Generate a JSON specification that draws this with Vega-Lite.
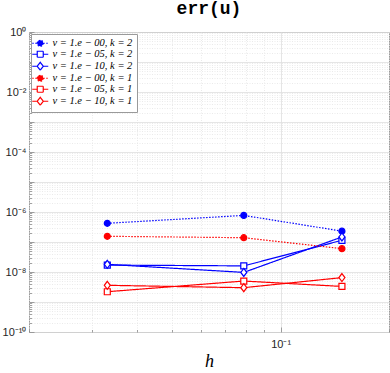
{
  "$schema": "https://vega.github.io/schema/vega-lite/v6.json",
  "width": 360,
  "height": 300,
  "autosize": {"type": "none"},
  "padding": {"left": 29, "top": 32, "right": 1, "bottom": 41},
  "background": "white",
  "title": {"text": "err(u)", "font": "Liberation Mono", "fontWeight": "bold", "fontSize": 18, "color": "#000000", "offset": 8},
  "config": {
    "view": {"stroke": "#9a9a9a", "strokeWidth": 1},
    "axis": {
      "domain": false,
      "ticks": true,
      "tickColor": "#8a8a8a",
      "tickWidth": 0.8,
      "labelFont": "Liberation Sans",
      "labelFontSize": 11,
      "labelColor": "#262626",
      "labelOverlap": false,
      "labelBound": false,
      "titleColor": "#000000"
    },
    "legend": {
      "orient": "top-left", "offset": 2, "fillColor": "white", "strokeColor": "#9a9a9a", "padding": 4,
      "labelFont": "Liberation Serif", "labelFontStyle": "italic", "labelFontSize": 10.5, "labelColor": "#000000",
      "symbolSize": 64, "symbolStrokeWidth": 1.2, "rowPadding": -1, "labelOffset": 7, "symbolOpacity": 1
    }
  },
  "data": {
    "values": [
      {"series": "ν = 1.e − 00, k = 2", "marker": "circle", "h": 0.033, "err": 4.2e-7},
      {"series": "ν = 1.e − 00, k = 2", "marker": "circle", "h": 0.079, "err": 7.7e-7},
      {"series": "ν = 1.e − 00, k = 2", "marker": "circle", "h": 0.148, "err": 2.3e-7},
      {"series": "ν = 1.e − 05, k = 2", "marker": "square", "h": 0.033, "err": 1.7e-8},
      {"series": "ν = 1.e − 05, k = 2", "marker": "square", "h": 0.079, "err": 1.6e-8},
      {"series": "ν = 1.e − 05, k = 2", "marker": "square", "h": 0.148, "err": 1.14e-7},
      {"series": "ν = 1.e − 10, k = 2", "marker": "diamond", "h": 0.033, "err": 1.8e-8},
      {"series": "ν = 1.e − 10, k = 2", "marker": "diamond", "h": 0.079, "err": 9.7e-9},
      {"series": "ν = 1.e − 10, k = 2", "marker": "diamond", "h": 0.148, "err": 1.47e-7},
      {"series": "ν = 1.e − 00, k = 1", "marker": "circle", "h": 0.033, "err": 1.55e-7},
      {"series": "ν = 1.e − 00, k = 1", "marker": "circle", "h": 0.079, "err": 1.39e-7},
      {"series": "ν = 1.e − 00, k = 1", "marker": "circle", "h": 0.148, "err": 6.0e-8},
      {"series": "ν = 1.e − 05, k = 1", "marker": "square", "h": 0.033, "err": 2.2e-9},
      {"series": "ν = 1.e − 05, k = 1", "marker": "square", "h": 0.079, "err": 5.0e-9},
      {"series": "ν = 1.e − 05, k = 1", "marker": "square", "h": 0.148, "err": 3.3e-9},
      {"series": "ν = 1.e − 10, k = 1", "marker": "diamond", "h": 0.033, "err": 3.6e-9},
      {"series": "ν = 1.e − 10, k = 1", "marker": "diamond", "h": 0.079, "err": 3.0e-9},
      {"series": "ν = 1.e − 10, k = 1", "marker": "diamond", "h": 0.148, "err": 6.5e-9}
    ]
  },
  "encoding": {
    "x": {
      "field": "h", "type": "quantitative",
      "scale": {"type": "log", "domain": [0.02, 0.2], "nice": false},
      "axis": {
        "title": "h",
        "titleFont": "Liberation Serif",
        "titleFontStyle": "italic",
        "titleFontWeight": "normal",
        "titleFontSize": 18,
        "titlePadding": 1,
        "labelPadding": 11,
        "tickSize": {"condition": {"test": "abs(datum.value/0.1-1)<1e-6", "value": -5}, "value": -2.5},
        "values": [0.02, 0.03, 0.04, 0.05, 0.06, 0.07, 0.08, 0.09, 0.1, 0.2],
        "labelExpr": "abs(datum.value/0.1-1)<1e-6 ? '10⁻¹' : ''",
        "gridColor": {"condition": {"test": "abs(datum.value/0.1-1)<1e-6", "value": "#dedede"}, "value": "#e4e4e4"},
        "gridDash": {"condition": {"test": "abs(datum.value/0.1-1)<1e-6", "value": []}, "value": [1, 1.5]},
        "gridWidth": 0.8
      }
    },
    "y": {
      "field": "err", "type": "quantitative",
      "scale": {"type": "log", "domain": [1e-10, 1], "nice": false},
      "axis": {
        "title": null,
        "labelPadding": 8,
        "tickSize": {"condition": {"test": "abs(log(datum.value)/LN10 - round(log(datum.value)/LN10)) < 1e-6", "value": -5}, "value": -2.5},
        "values": [1e-10, 2e-10, 3e-10, 4e-10, 5e-10, 6e-10, 7e-10, 8e-10, 9e-10,
                   1e-9, 2e-9, 3e-9, 4e-9, 5e-9, 6e-9, 7e-9, 8e-9, 9e-9,
                   1e-8, 2e-8, 3e-8, 4e-8, 5e-8, 6e-8, 7e-8, 8e-8, 9e-8,
                   1e-7, 2e-7, 3e-7, 4e-7, 5e-7, 6e-7, 7e-7, 8e-7, 9e-7,
                   1e-6, 2e-6, 3e-6, 4e-6, 5e-6, 6e-6, 7e-6, 8e-6, 9e-6,
                   1e-5, 2e-5, 3e-5, 4e-5, 5e-5, 6e-5, 7e-5, 8e-5, 9e-5,
                   1e-4, 2e-4, 3e-4, 4e-4, 5e-4, 6e-4, 7e-4, 8e-4, 9e-4,
                   1e-3, 2e-3, 3e-3, 4e-3, 5e-3, 6e-3, 7e-3, 8e-3, 9e-3,
                   1e-2, 2e-2, 3e-2, 4e-2, 5e-2, 6e-2, 7e-2, 8e-2, 9e-2,
                   1e-1, 2e-1, 3e-1, 4e-1, 5e-1, 6e-1, 7e-1, 8e-1, 9e-1, 1],
        "labelExpr": "abs(datum.value-1)<1e-9 ? '10⁰' : abs(datum.value/1e-2-1)<1e-6 ? '10⁻²' : abs(datum.value/1e-4-1)<1e-6 ? '10⁻⁴' : abs(datum.value/1e-6-1)<1e-6 ? '10⁻⁶' : abs(datum.value/1e-8-1)<1e-6 ? '10⁻⁸' : abs(datum.value/1e-10-1)<1e-6 ? '10⁻¹⁰' : ''",
        "gridColor": {"condition": {"test": "abs(log(datum.value)/LN10 - round(log(datum.value)/LN10)) < 1e-6", "value": "#dedede"}, "value": "#e4e4e4"},
        "gridDash": {"condition": {"test": "abs(log(datum.value)/LN10 - round(log(datum.value)/LN10)) < 1e-6", "value": []}, "value": [1, 1.5]},
        "gridWidth": 0.8
      }
    },
    "color": {"field": "series", "type": "nominal", "legend": {"title": null},
      "scale": {"domain": ["ν = 1.e − 00, k = 2", "ν = 1.e − 05, k = 2", "ν = 1.e − 10, k = 2", "ν = 1.e − 00, k = 1", "ν = 1.e − 05, k = 1", "ν = 1.e − 10, k = 1"],
                "range": ["#0000ff", "#0000ff", "#0000ff", "#ff0000", "#ff0000", "#ff0000"]}}
  },
  "layer": [
    {
      "mark": {"type": "line", "strokeWidth": 1.2},
      "encoding": {
        "strokeDash": {"field": "series", "type": "nominal", "legend": {"title": null},
          "scale": {"domain": ["ν = 1.e − 00, k = 2", "ν = 1.e − 05, k = 2", "ν = 1.e − 10, k = 2", "ν = 1.e − 00, k = 1", "ν = 1.e − 05, k = 1", "ν = 1.e − 10, k = 1"],
                    "range": [[1.5, 1.5], [1, 0], [1, 0], [1.5, 1.5], [1, 0], [1, 0]]}}
      }
    },
    {
      "transform": [{"filter": "datum.marker == 'circle'"}],
      "mark": {"type": "point", "strokeWidth": 1.2, "opacity": 1, "filled": false, "shape": "M-0.75,0A0.75,0.75,0,1,1,0.75,0A0.75,0.75,0,1,1,-0.75,0Z", "size": 64},
      "encoding": {
        "fill": {"field": "series", "type": "nominal", "legend": {"title": null},
          "scale": {"domain": ["ν = 1.e − 00, k = 2", "ν = 1.e − 05, k = 2", "ν = 1.e − 10, k = 2", "ν = 1.e − 00, k = 1", "ν = 1.e − 05, k = 1", "ν = 1.e − 10, k = 1"],
                    "range": ["#0000ff", "white", "white", "#ff0000", "white", "white"]}}
      }
    },
    {
      "transform": [{"filter": "datum.marker == 'square'"}],
      "mark": {"type": "point", "strokeWidth": 1.2, "opacity": 1, "filled": false, "fill": "white", "shape": "M-0.75,-0.75H0.75V0.75H-0.75Z", "size": 64}
    },
    {
      "transform": [{"filter": "datum.marker == 'diamond'"}],
      "mark": {"type": "point", "strokeWidth": 1.2, "opacity": 1, "filled": false, "fill": "white", "shape": "M0,-1L0.75,0L0,1L-0.75,0Z", "size": 64}
    },
    {
      "transform": [{"filter": "false"}],
      "mark": {"type": "point", "strokeWidth": 1.2, "opacity": 1, "filled": false, "size": 64},
      "encoding": {
        "fill": {"field": "series", "type": "nominal", "legend": {"title": null}},
        "shape": {"field": "series", "type": "nominal", "legend": {"title": null},
          "scale": {"domain": ["ν = 1.e − 00, k = 2", "ν = 1.e − 05, k = 2", "ν = 1.e − 10, k = 2", "ν = 1.e − 00, k = 1", "ν = 1.e − 05, k = 1", "ν = 1.e − 10, k = 1"],
                    "range": ["M-2,0L-0.75,0M0.75,0L2,0M-0.75,0A0.75,0.75,0,1,1,0.75,0A0.75,0.75,0,1,1,-0.75,0Z",
                              "M-2,0L-0.75,0M0.75,0L2,0M-0.75,-0.75H0.75V0.75H-0.75Z",
                              "M-2,0L-0.75,0M0.75,0L2,0M0,-1L0.75,0L0,1L-0.75,0Z",
                              "M-2,0L-0.75,0M0.75,0L2,0M-0.75,0A0.75,0.75,0,1,1,0.75,0A0.75,0.75,0,1,1,-0.75,0Z",
                              "M-2,0L-0.75,0M0.75,0L2,0M-0.75,-0.75H0.75V0.75H-0.75Z",
                              "M-2,0L-0.75,0M0.75,0L2,0M0,-1L0.75,0L0,1L-0.75,0Z"]}}
      }
    }
  ]
}
